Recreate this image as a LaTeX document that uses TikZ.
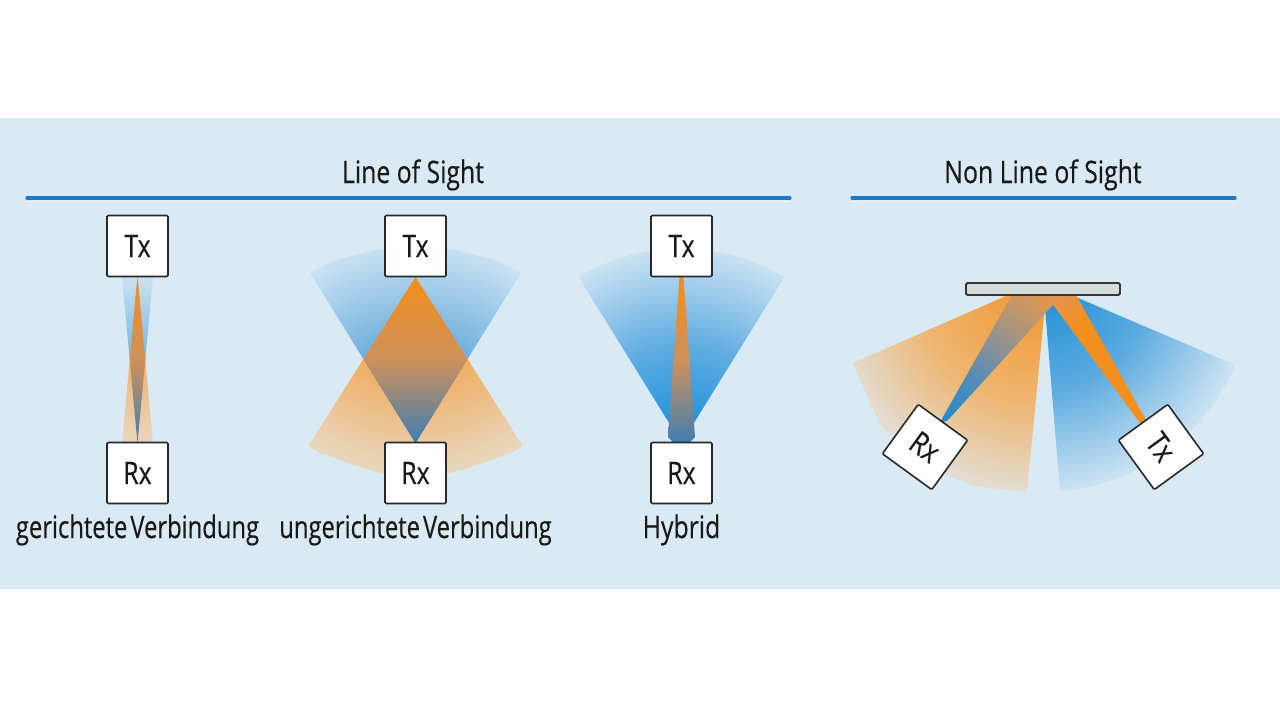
\documentclass[tikz,border=0pt]{standalone}
\usepackage{fontspec}
\newfontfamily\cond[FakeStretch=0.8,FakeBold=0.3]{Open Sans}
\newfontfamily\condlab[FakeStretch=0.767,FakeBold=0.3]{Open Sans}
\newcommand\labelfont{\cond\fontsize{31}{31}\selectfont}
\newcommand\subfont{\condlab\fontsize{31}{31}\selectfont}
\newcommand\wsp{\hspace{3pt}}
\definecolor{bandbg}{RGB}{218,234,244}
\definecolor{lineblue}{RGB}{30,122,200}
\definecolor{cOr}{RGB}{244,142,28}
\definecolor{cOrMid}{RGB}{239,174,100}
\definecolor{cBeige}{RGB}{232,216,192}
\definecolor{cBl}{RGB}{30,132,202}
\definecolor{cBlMid}{RGB}{110,175,222}
\definecolor{cBlLight}{RGB}{202,226,242}
\definecolor{cBlS}{RGB}{20,140,215}
\definecolor{cBlSMid}{RGB}{95,172,226}
\definecolor{cTan}{RGB}{205,145,92}
\definecolor{cGrayBl}{RGB}{62,126,178}
\definecolor{cOrF}{RGB}{243,150,45}
\definecolor{cOrFMid}{RGB}{238,182,115}
\definecolor{cOrFEnd}{RGB}{226,222,212}
\definecolor{cBlF}{RGB}{28,142,212}
\definecolor{cBlFMid}{RGB}{90,170,224}
\definecolor{cBlFEnd}{RGB}{205,227,242}
\definecolor{rxA}{RGB}{35,140,205}
\definecolor{rxB}{RGB}{80,140,185}
\definecolor{rxC}{RGB}{140,145,150}
\definecolor{rxD}{RGB}{190,150,110}
\definecolor{rxE}{RGB}{228,150,70}
\definecolor{txEnd}{RGB}{222,152,100}
\definecolor{boxline}{RGB}{40,40,40}
\definecolor{txt}{RGB}{25,25,25}
\definecolor{barfill}{RGB}{214,220,220}
\definecolor{barline}{RGB}{55,55,55}
\pgfdeclareradialshading{orcone}{\pgfpoint{0bp}{0bp}}{color(0bp)=(cOr); color(12.5bp)=(cOrMid); color(25bp)=(cBeige); color(50bp)=(cBeige)}
\pgfdeclareradialshading{blcone}{\pgfpoint{0bp}{0bp}}{color(0bp)=(cBl); color(12.5bp)=(cBlMid); color(25bp)=(cBlLight); color(50bp)=(cBlLight)}
\pgfdeclareradialshading{blconeS}{\pgfpoint{0bp}{0bp}}{color(0bp)=(cBlS); color(12.5bp)=(cBlSMid); color(25bp)=(cBlLight); color(50bp)=(cBlLight)}
\pgfdeclareradialshading{orfan}{\pgfpoint{0bp}{0bp}}{color(0bp)=(cOrF); color(14bp)=(cOrFMid); color(25bp)=(cOrFEnd); color(50bp)=(cOrFEnd)}
\pgfdeclareradialshading{blfan}{\pgfpoint{0bp}{0bp}}{color(0bp)=(cBlF); color(12.5bp)=(cBlFMid); color(25bp)=(cBlFEnd); color(50bp)=(cBlFEnd)}
\pgfdeclareradialshading{rxbeam}{\pgfpoint{0bp}{0bp}}{color(0bp)=(rxA); color(7.5bp)=(rxB); color(14bp)=(rxC); color(20bp)=(rxD); color(25bp)=(rxE); color(50bp)=(rxE)}
\pgfdeclareradialshading{txbeam}{\pgfpoint{0bp}{0bp}}{color(0bp)=(cOr); color(17.5bp)=(cOr); color(25bp)=(txEnd); color(50bp)=(txEnd)}
\begin{document}
\begin{tikzpicture}[x=1pt,y=-1pt,
  box/.style={draw=boxline, fill=white, line width=1.6pt, minimum size=61pt, inner sep=0pt, rounded corners=1.2pt, text=txt, font=\labelfont, text height=22pt, text depth=0pt},
  title/.style={text=txt, font=\labelfont, inner sep=0pt, anchor=base},
  sublabel/.style={text=txt, font=\subfont, inner sep=0pt, anchor=base},
  rule/.style={draw=lineblue, line width=3.2pt, line cap=round},
  glow/.style={draw=white, opacity=0.7, line width=1.4pt}]
\useasboundingbox (0,0) rectangle (1280,721);
\fill[white] (0,0) rectangle (1280,721);
\fill[bandbg] (0,118) rectangle (1280,589);

% titles and rules
\node[title] (los) at (413,183) {Line of Sight};
\node[title] (nlos) at (1043,183) {Non Line of Sight};
\draw[glow] (27,201.5) -- (790,201.5);
\draw[rule] (27,198) -- (790,198);
\draw[glow] (852,201.5) -- (1235,201.5);
\draw[rule] (852,198) -- (1235,198);

% ---------- diagram 1: gerichtete Verbindung
\shade[top color=cBlLight, bottom color=cBl] (137.5,443) -- (122,277) -- (153,277) -- cycle;
\shade[top color=cOr, bottom color=cBeige] (137.5,277) -- (122,443) -- (153,443) -- cycle;
\shade[top color=cOr, bottom color=cGrayBl, middle color=cTan] (137.5,277) -- (129.75,360) -- (137.5,443) -- (145.25,360) -- cycle;

% ---------- diagram 2: ungerichtete Verbindung
\begin{scope}
\clip (415.5,277) -- (307,448) .. controls (415.5,488) .. (524,448) -- cycle;
\shade[shading=orcone] (415.5,277) circle (200);
\end{scope}
\begin{scope}
\clip (415.5,443) -- (307,268) .. controls (415.5,238) .. (524,268) -- cycle;
\shade[shading=blcone] (415.5,443) circle (200);
\end{scope}
\shade[top color=cOr, bottom color=cGrayBl, middle color=cTan] (415.5,277) -- (363.4,359) -- (415.5,443) -- (467.6,359) -- cycle;

% ---------- diagram 3: Hybrid
\begin{scope}
\clip (681.5,443) -- (573,268) .. controls (681.5,242) .. (790,268) -- cycle;
\shade[shading=blconeS] (681.5,443) circle (195);
\end{scope}
\shade[top color=cOr, bottom color=cGrayBl, middle color=cTan] (679.5,277) -- (683.5,277) -- (695,437) -- (688,444) -- (675,444) -- (668,437) -- cycle;

% ---------- diagram 4: Non Line of Sight
\begin{scope}
\clip (1008,295) -- (1046,295) -- (1027,492) .. controls (902,478) .. (853,363) -- cycle;
\shade[shading=orfan] (1035,290) circle (205);
\end{scope}
\begin{scope}
\clip (1043,283) -- ++(85.35:209) arc[start angle=85.35, end angle=23.1, radius=209] -- cycle;
\shade[shading=blfan] (1043,283) circle (209);
\end{scope}
\begin{scope}
\clip (939,424) -- (948,420) -- (1062,295) -- (1012,295) -- cycle;
\shade[shading=rxbeam] (944,422) circle (165);
\end{scope}
\begin{scope}
\clip (1140,423) -- (1146,420) -- (1076,295) -- (1046,295) -- cycle;
\shade[shading=txbeam] (1143,422) circle (165);
\end{scope}
\draw[barline, fill=barfill, line width=1.8pt, rounded corners=1.5pt] (966,283) rectangle (1120,295);

% ---------- boxes
\node[box] (tx1) at (137.5,246) {Tx};
\node[box] (rx1) at (137.5,473) {Rx};
\node[box] (tx2) at (415.5,246) {Tx};
\node[box] (rx2) at (415.5,473) {Rx};
\node[box] (tx3) at (681.5,246) {Tx};
\node[box] (rx3) at (681.5,473) {Rx};
\node[box, rotate=-36] (rx4) at (925,447) {Rx};
\node[box, rotate=-54] (tx4) at (1161,447) {Tx};

% ---------- labels
\node[sublabel] (lab1) at (137.5,538) {gerichtete\wsp Verbindung};
\node[sublabel] (lab2) at (415.5,538) {ungerichtete\wsp Verbindung};
\node[title] (lab3) at (681.5,538) {Hybrid};
\end{tikzpicture}
\end{document}
